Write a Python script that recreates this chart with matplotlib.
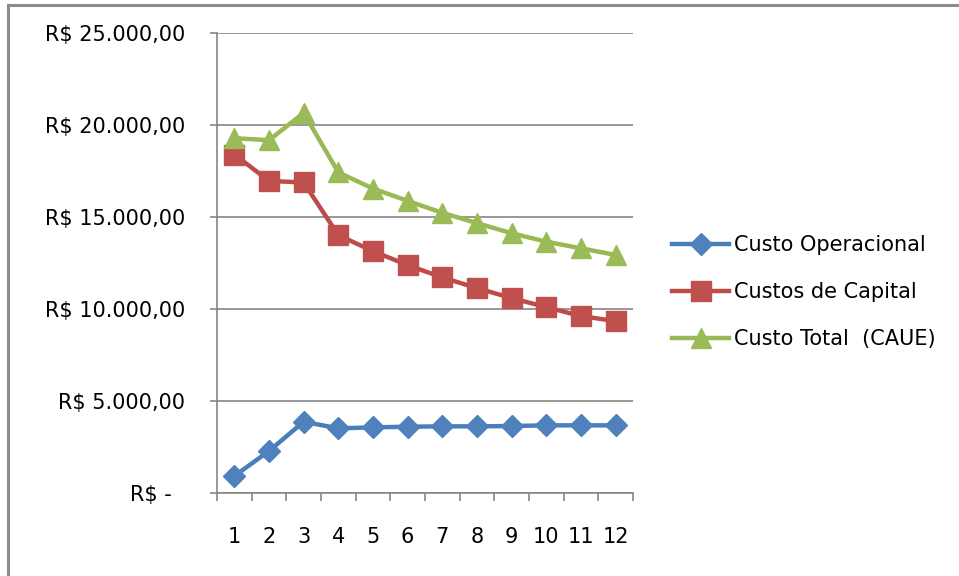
import numpy as np
import matplotlib
matplotlib.use("Agg")
import matplotlib.pyplot as plt
from matplotlib.lines import Line2D
from matplotlib.ticker import FixedLocator, FuncFormatter

plt.rcParams['font.family'] = ['DejaVu Sans']

# Custos anuais por ano de substituição (R$)
anos = list(range(1, 13))
custo_operacional = [907, 2266, 3859, 3500, 3554, 3587, 3609, 3609, 3625, 3663, 3663, 3663]
custos_capital = [18391, 16957, 16870, 14005, 13136, 12375, 11707, 11125, 10582, 10092, 9603, 9332]
custo_total = [19280, 19170, 20650, 17420, 16540, 15870, 15220, 14660, 14110, 13650, 13290, 12930]

y_ticks = [0, 5000, 10000, 15000, 20000, 25000]

W, H = 959, 576
fig = plt.figure(figsize=(W / 100, H / 100), dpi=100)
ax = fig.add_axes([217 / W, 1 - 492.7 / H, (633 - 217) / W, (492.7 - 33) / H])

series = [
    (custo_operacional, 'Custo Operacional', '#4A7EBB', '#4F81BD', 'D', 11),
    (custos_capital, 'Custos de Capital', '#BE4B48', '#C0504D', 's', 14),
    (custo_total, 'Custo Total  (CAUE)', '#98B954', '#9BBB59', '^', 14),
]
for valores, nome, cor_linha, cor_marca, marca, tam in series:
    ax.plot(anos, valores, color=cor_linha, lw=3.2, marker=marca, ms=tam,
            markerfacecolor=cor_marca, markeredgecolor=cor_marca, label=nome,
            solid_joinstyle='round')

ax.set_xlim(0.5, 12.5)
ax.set_ylim(0, 25000)


def moeda(v, pos=None):
    if v == 0:
        return 'R$ -  '
    s = f'{int(v):,}'.replace(',', '.')
    return f'R$ {s},00'


ax.yaxis.set_major_locator(FixedLocator(y_ticks))
ax.yaxis.set_major_formatter(FuncFormatter(moeda))
ax.grid(axis='y', color='#868686', lw=1.2)
ax.set_axisbelow(True)

# marcas do eixo x entre as categorias, rótulos no centro
ax.xaxis.set_major_locator(FixedLocator(np.arange(0.5, 13, 1)))
ax.xaxis.set_major_formatter(FuncFormatter(lambda v, p: ''))
ax.xaxis.set_minor_locator(FixedLocator(anos))
ax.xaxis.set_minor_formatter(FuncFormatter(lambda v, p: f'{int(round(v))}'))
ax.tick_params(axis='x', which='major', length=6, width=1.2, color='#868686', direction='out')
ax.tick_params(axis='x', which='minor', length=0, pad=25, labelsize=15)
ax.tick_params(axis='y', length=5, width=1.2, color='#868686', pad=18, labelsize=15)

for lado in ['top', 'right']:
    ax.spines[lado].set_visible(False)
for lado in ['left', 'bottom']:
    ax.spines[lado].set_color('#868686')
    ax.spines[lado].set_linewidth(1.2)

fig.legend(loc='center left', bbox_to_anchor=(672 / W, 1 - 292 / H),
           frameon=False, fontsize=15, handlelength=2.75, handletextpad=0.22,
           labelspacing=1.3, borderpad=0, borderaxespad=0)

# moldura cinza da área do gráfico
borda = dict(color='#8C8C8C', lw=2.2, transform=fig.transFigure)
fig.add_artist(Line2D([8 / W, 8 / W], [0, 1 - 5 / H], **borda))
fig.add_artist(Line2D([8 / W, 1], [1 - 5 / H, 1 - 5 / H], **borda))

fig.savefig('out.png', dpi=100)
